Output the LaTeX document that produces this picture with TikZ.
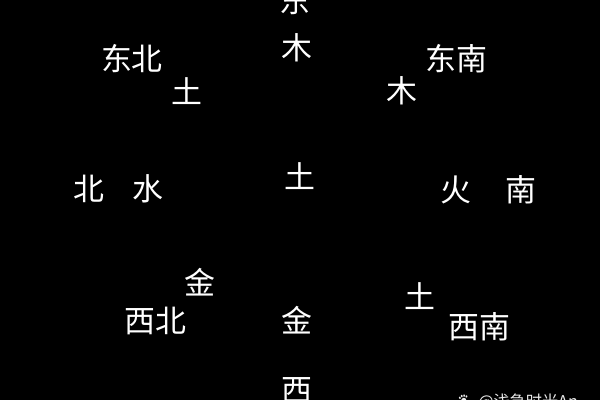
\documentclass[tikz,border=0pt]{standalone}
\usepackage{fontspec}
\setmainfont{Noto Sans CJK SC}
\newfontfamily\emojifont{Noto Emoji}
\begin{document}
\begin{tikzpicture}[
  lbl/.style={text=white, inner sep=0pt, font=\fontsize{22}{26}\selectfont, text height=0.88em, text depth=0.12em, anchor=center, yshift=-0.16cm},
  wm/.style={text=white!92!black, inner sep=0pt, font=\fontsize{11.5}{14}\selectfont, anchor=west}
]
\useasboundingbox (0,0) rectangle (15,10);
\fill[black] (0,0) rectangle (15,10);
\clip (0,0) rectangle (15,10);
\node[lbl] (dongT) at (7.375,9.975) {东};
\node[lbl] (muT) at (7.425,8.8) {木};
\node[lbl] (dongbei) at (3.3,8.525) {东北};
\node[lbl] (tuNW) at (4.675,7.7) {土};
\node[lbl] (dongnan) at (11.4,8.525) {东南};
\node[lbl] (muNE) at (10.05,7.725) {木};
\node[lbl] (bei) at (2.225,5.275) {北};
\node[lbl] (shui) at (3.7,5.275) {水};
\node[lbl] (tuC) at (7.5,5.575) {土};
\node[lbl] (huo) at (11.4,5.25) {火};
\node[lbl] (nan) at (13.025,5.25) {南};
\node[lbl] (jinSW) at (5.0,2.925) {金};
\node[lbl] (xibei) at (3.875,1.975) {西北};
\node[lbl] (jinB) at (7.425,1.975) {金};
\node[lbl] (tuSE) at (10.5,2.575) {土};
\node[lbl] (xinan) at (11.975,1.825) {西南};
\node[lbl] (xiB) at (7.425,0.25) {西};
\node[wm] (icon) at (11.4,-0.05) {\emojifont 🐾};
\node[wm] (mark) at (11.95,-0.05) {@浅急时光An};
\end{tikzpicture}
\end{document}
